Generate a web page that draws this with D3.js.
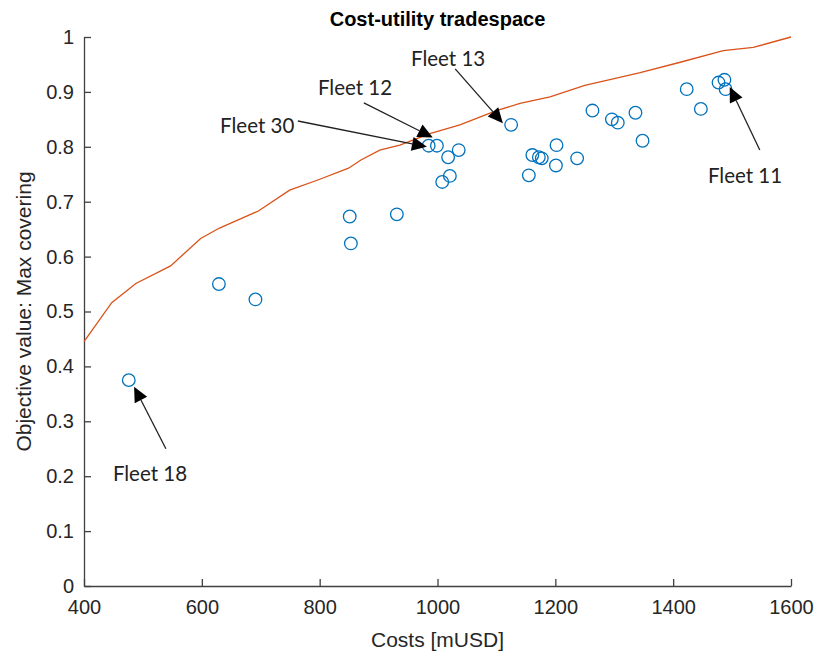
<!DOCTYPE html>
<html>
<head>
<meta charset="utf-8">
<script src="https://cdn.jsdelivr.net/npm/d3@7"></script>
<style>
  body { margin: 0; background: #fff; }
  svg { display: block; }
</style>
</head>
<body>
<svg id="chart"></svg>
<script>
// fleets: cost [mUSD] and objective value (max covering)
const fleetCost = [476, 629, 691, 851, 853, 931, 985, 999, 1008, 1018, 1021, 1036, 1125, 1155, 1161,
  1172, 1177, 1201, 1202, 1237, 1263, 1296, 1306, 1336, 1348, 1423, 1447, 1477, 1487, 1489];
const fleetValue = [0.375, 0.550, 0.522, 0.673, 0.624, 0.677, 0.802, 0.802, 0.736, 0.781, 0.747, 0.794, 0.840, 0.748, 0.785,
  0.781, 0.779, 0.766, 0.803, 0.779, 0.866, 0.850, 0.844, 0.862, 0.811, 0.905, 0.869, 0.917, 0.922, 0.905];

// orange frontier line
const frontierCost = [400, 447, 488, 547, 598, 630, 696, 749, 798, 849, 870, 902, 936, 987, 1038, 1100,
  1140, 1191, 1250, 1300, 1344, 1412, 1485, 1536, 1600];
const frontierValue = [0.445, 0.516, 0.551, 0.583, 0.633, 0.652, 0.683, 0.721, 0.740, 0.761, 0.776, 0.794, 0.803, 0.824, 0.840, 0.866,
  0.879, 0.891, 0.912, 0.924, 0.935, 0.954, 0.975, 0.981, 1.0];

// annotations (data units)
const annLabel = ["Fleet 30", "Fleet 12", "Fleet 13", "Fleet 11", "Fleet 18"];
const annTextX = [694, 860, 1018, 1522, 512];
const annTextY = [0.840, 0.909, 0.962, 0.749, 0.206];
const annTailX = [763, 875, 1030, 1547, 539];
const annTailY = [0.847, 0.880, 0.942, 0.794, 0.250];
const annHeadX = [982, 992, 1111, 1496, 485];
const annHeadY = [0.800, 0.817, 0.843, 0.909, 0.363];

const xTicks = [400, 600, 800, 1000, 1200, 1400, 1600];
const yTicks = [0, 0.1, 0.2, 0.3, 0.4, 0.5, 0.6, 0.7, 0.8, 0.9, 1];

const width = 818, height = 655;
const margin = { top: 37, right: 27, bottom: 69, left: 84 };
const axisColor = "#404040";
const textColor = "#262626";
const sans = "'Liberation Sans', Arial, sans-serif";

const svg = d3.select("#chart").attr("width", width).attr("height", height);

const x = d3.scaleLinear().domain([400, 1600]).range([margin.left, width - margin.right]);
const y = d3.scaleLinear().domain([0, 1]).range([height - margin.bottom, margin.top]);

// axes, ticks pointing inward like matlab
const xAxis = svg.append("g")
  .attr("transform", `translate(0,${height - margin.bottom})`)
  .call(d3.axisBottom(x).tickValues(xTicks).tickSize(-7).tickPadding(14).tickSizeOuter(0)
    .tickFormat(d3.format("d")));
const yAxis = svg.append("g")
  .attr("transform", `translate(${margin.left},0)`)
  .call(d3.axisLeft(y).tickValues(yTicks).tickSize(-7).tickPadding(10).tickSizeOuter(0)
    .tickFormat(d => d3.format("~g")(d)));

[xAxis, yAxis].forEach(g => {
  g.attr("font-family", sans);
  g.select(".domain").attr("stroke", axisColor).attr("stroke-width", 1.3);
  g.selectAll(".tick line").attr("stroke", axisColor).attr("stroke-width", 1.3);
  g.selectAll(".tick text")
    .attr("fill", textColor)
    .attr("font-size", "20px");
});

// frontier
const line = d3.line().x((d, i) => x(frontierCost[i])).y(d => y(d));
svg.append("path")
  .datum(frontierValue)
  .attr("fill", "none")
  .attr("stroke", "#D95319")
  .attr("stroke-width", 1.3)
  .attr("d", line);

// fleets
svg.append("g").selectAll("circle")
  .data(fleetValue)
  .join("circle")
  .attr("cx", (d, i) => x(fleetCost[i]))
  .attr("cy", d => y(d))
  .attr("r", 6.3)
  .attr("fill", "none")
  .attr("stroke", "#0072BD")
  .attr("stroke-width", 1.3);

// annotation arrows
const headLen = 15, headHalf = 7;
annLabel.forEach((label, i) => {
  const x0 = x(annTailX[i]), y0 = y(annTailY[i]);
  const x1 = x(annHeadX[i]), y1 = y(annHeadY[i]);
  const len = Math.hypot(x1 - x0, y1 - y0);
  const ux = (x1 - x0) / len, uy = (y1 - y0) / len;
  const bx = x1 - ux * headLen, by = y1 - uy * headLen;
  svg.append("line")
    .attr("x1", x0).attr("y1", y0).attr("x2", bx).attr("y2", by)
    .attr("stroke", "#222").attr("stroke-width", 1.3);
  svg.append("polygon")
    .attr("points", [[x1, y1], [bx - uy * headHalf, by + ux * headHalf], [bx + uy * headHalf, by - ux * headHalf]].join(" "))
    .attr("fill", "#000");
  svg.append("text")
    .attr("x", x(annTextX[i]))
    .attr("y", y(annTextY[i]))
    .attr("text-anchor", "middle")
    .attr("dominant-baseline", "central")
    .attr("font-family", "Lato, 'Open Sans', sans-serif")
    .attr("font-size", "20.5px")
    .attr("fill", "#222")
    .text(label);
});

// title and labels
svg.append("text")
  .attr("x", (margin.left + width - margin.right) / 2)
  .attr("y", 26)
  .attr("text-anchor", "middle")
  .attr("font-family", sans)
  .attr("font-weight", "bold")
  .attr("font-size", "20px")
  .attr("fill", "#000")
  .text("Cost-utility tradespace");

svg.append("text")
  .attr("x", (margin.left + width - margin.right) / 2)
  .attr("y", 647)
  .attr("text-anchor", "middle")
  .attr("font-family", sans)
  .attr("font-size", "21px")
  .attr("fill", textColor)
  .text("Costs [mUSD]");

svg.append("text")
  .attr("transform", `translate(31,${(margin.top + height - margin.bottom) / 2}) rotate(-90)`)
  .attr("text-anchor", "middle")
  .attr("font-family", sans)
  .attr("font-size", "21px")
  .attr("fill", textColor)
  .text("Objective value: Max covering");
</script>
</body>
</html>
